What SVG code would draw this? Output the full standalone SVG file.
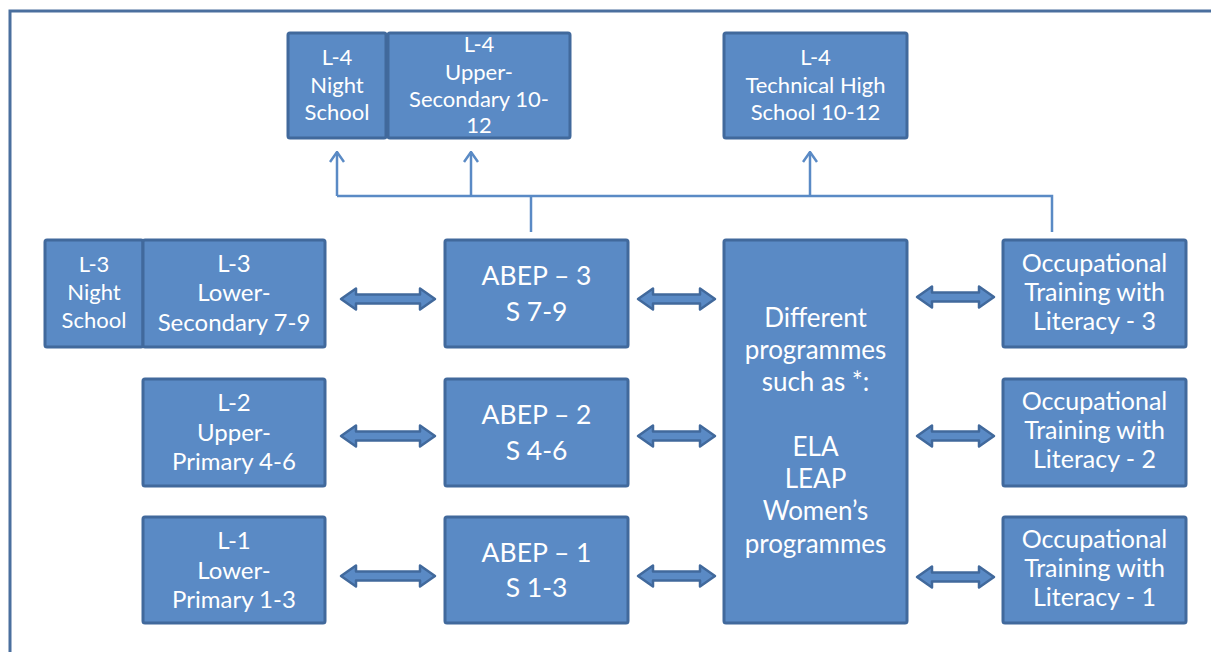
<svg xmlns="http://www.w3.org/2000/svg" width="1211" height="652" viewBox="0 0 1211 652">
<style>
.box{fill:#5A8AC5;stroke:#41699C;stroke-width:3}
.t{fill:#ffffff;font-family:Lato,"Open Sans",sans-serif;text-anchor:middle}
.s18{font-size:22px}.s22{font-size:24px}.s25{font-size:26.5px}.s23{font-size:26px}.s24{font-size:25px}
.ln{fill:none;stroke:#5A8AC5;stroke-width:2.5}
.blk{fill:#5A8AC5;stroke:#41699C;stroke-width:2.5;stroke-linejoin:round}
</style>
<defs>
<marker id="open" viewBox="0 0 12 16" refX="11" refY="8" markerWidth="12" markerHeight="16" markerUnits="userSpaceOnUse" orient="auto">
<path d="M1,1 L11,8 L1,15" fill="none" stroke="#5A8AC5" stroke-width="2.5"/>
</marker>
<path id="dbl94" d="M-47,0 L-32,-10.5 L-32,-4.5 L32,-4.5 L32,-10.5 L47,0 L32,10.5 L32,4.5 L-32,4.5 L-32,10.5 Z"/>
<path id="dbl77" d="M-38.5,0 L-23.5,-10.5 L-23.5,-4.5 L23.5,-4.5 L23.5,-10.5 L38.5,0 L23.5,10.5 L23.5,4.5 L-23.5,4.5 L-23.5,10.5 Z"/>
</defs>
<rect width="1211" height="652" fill="#ffffff"/>
<path d="M10,652 V11 H1211" fill="none" stroke="#4A6F9E" stroke-width="3"/>

<g id="connectors">
<path class="ln" d="M531,232 V196"/>
<path class="ln" d="M1052,232 V196 H337"/>
<path class="ln" d="M337,196 V152" marker-end="url(#open)"/>
<path class="ln" d="M471,196 V152" marker-end="url(#open)"/>
<path class="ln" d="M810,196 V152" marker-end="url(#open)"/>
<use href="#dbl94" class="blk" transform="translate(388,299)"/>
<use href="#dbl94" class="blk" transform="translate(388,436)"/>
<use href="#dbl94" class="blk" transform="translate(388,576)"/>
<use href="#dbl77" class="blk" transform="translate(676.5,299)"/>
<use href="#dbl77" class="blk" transform="translate(676.5,436)"/>
<use href="#dbl77" class="blk" transform="translate(676.5,576)"/>
<use href="#dbl77" class="blk" transform="translate(955.5,297)"/>
<use href="#dbl77" class="blk" transform="translate(955.5,436)"/>
<use href="#dbl77" class="blk" transform="translate(955.5,577)"/>
</g>

<g id="l4-night">
<rect class="box" x="288" y="33" width="98" height="105" rx="2"/>
<text class="t s18"><tspan x="337" y="65">L-4</tspan><tspan x="337" y="93">Night</tspan><tspan x="337" y="120">School</tspan></text>
</g>
<g id="l4-upper">
<rect class="box" x="388" y="33" width="182" height="105" rx="2"/>
<text class="t s18"><tspan x="479" y="52">L-4</tspan><tspan x="479" y="80">Upper-</tspan><tspan x="479" y="107">Secondary 10-</tspan><tspan x="479" y="133">12</tspan></text>
</g>
<g id="l4-tech">
<rect class="box" x="724" y="33" width="183" height="105" rx="2"/>
<text class="t s18"><tspan x="815.5" y="65">L-4</tspan><tspan x="815.5" y="93">Technical High</tspan><tspan x="815.5" y="120">School 10-12</tspan></text>
</g>

<g id="l3-night">
<rect class="box" x="45" y="240" width="98" height="107" rx="2"/>
<text class="t s18"><tspan x="94" y="272">L-3</tspan><tspan x="94" y="300">Night</tspan><tspan x="94" y="328">School</tspan></text>
</g>
<g id="l3-lower">
<rect class="box" x="143" y="240" width="182" height="107" rx="2"/>
<text class="t s22"><tspan x="234" y="272">L-3</tspan><tspan x="234" y="301">Lower-</tspan><tspan x="234" y="331">Secondary  7-9</tspan></text>
</g>
<g id="l2">
<rect class="box" x="143" y="379" width="182" height="107" rx="2"/>
<text class="t s22"><tspan x="234" y="411">L-2</tspan><tspan x="234" y="441">Upper-</tspan><tspan x="234" y="470">Primary 4-6</tspan></text>
</g>
<g id="l1">
<rect class="box" x="143" y="517" width="182" height="106" rx="2"/>
<text class="t s22"><tspan x="234" y="549">L-1</tspan><tspan x="234" y="579">Lower-</tspan><tspan x="234" y="608">Primary 1-3</tspan></text>
</g>

<g id="abep3">
<rect class="box" x="445" y="240" width="183" height="107" rx="2"/>
<text class="t s25"><tspan x="536.5" y="285">ABEP – 3</tspan><tspan x="536.5" y="321">S 7-9</tspan></text>
</g>
<g id="abep2">
<rect class="box" x="445" y="379" width="183" height="107" rx="2"/>
<text class="t s25"><tspan x="536.5" y="424">ABEP – 2</tspan><tspan x="536.5" y="460">S 4-6</tspan></text>
</g>
<g id="abep1">
<rect class="box" x="445" y="517" width="183" height="106" rx="2"/>
<text class="t s25"><tspan x="536.5" y="562">ABEP – 1</tspan><tspan x="536.5" y="597">S 1-3</tspan></text>
</g>

<g id="different">
<rect class="box" x="724" y="240" width="183" height="383" rx="2"/>
<text class="t s23"><tspan x="815.5" y="327">Different</tspan><tspan x="815.5" y="359">programmes</tspan><tspan x="815.5" y="391">such as *:</tspan><tspan x="815.5" y="456">ELA</tspan><tspan x="815.5" y="488">LEAP</tspan><tspan x="815.5" y="520">Women’s</tspan><tspan x="815.5" y="553">programmes</tspan></text>
</g>

<g id="occ3">
<rect class="box" x="1003" y="240" width="183" height="107" rx="2"/>
<text class="t s24"><tspan x="1094.5" y="272">Occupational</tspan><tspan x="1094.5" y="301">Training with</tspan><tspan x="1094.5" y="330">Literacy - 3</tspan></text>
</g>
<g id="occ2">
<rect class="box" x="1003" y="379" width="183" height="107" rx="2"/>
<text class="t s24"><tspan x="1094.5" y="410">Occupational</tspan><tspan x="1094.5" y="439">Training with</tspan><tspan x="1094.5" y="468">Literacy - 2</tspan></text>
</g>
<g id="occ1">
<rect class="box" x="1003" y="517" width="183" height="106" rx="2"/>
<text class="t s24"><tspan x="1094.5" y="548">Occupational</tspan><tspan x="1094.5" y="577">Training with</tspan><tspan x="1094.5" y="606">Literacy - 1</tspan></text>
</g>
</svg>
